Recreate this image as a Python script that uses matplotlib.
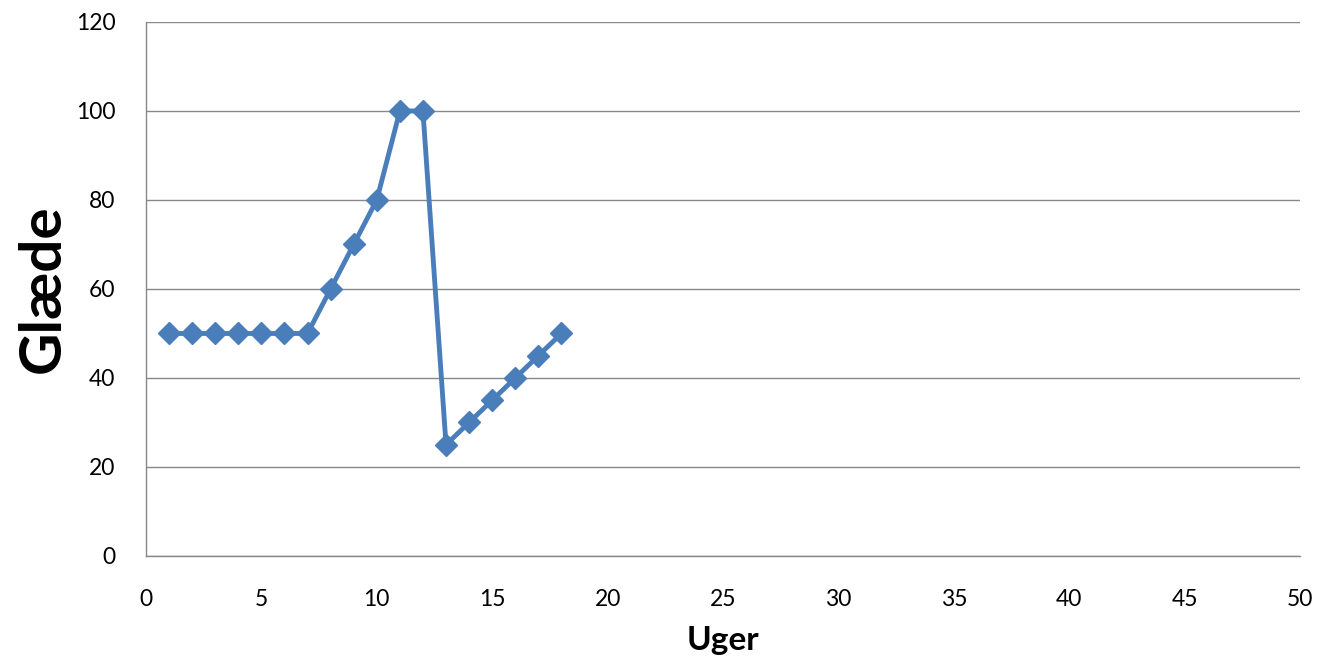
import matplotlib.pyplot as plt

# data
uger = [1, 2, 3, 4, 5, 6, 7, 8, 9, 10, 11, 12, 13, 14, 15, 16, 17, 18]
glaede = [50, 50, 50, 50, 50, 50, 50, 60, 70, 80, 100, 100, 25, 30, 35, 40, 45, 50]
x_ticks = [0, 5, 10, 15, 20, 25, 30, 35, 40, 45, 50]
y_ticks = [0, 20, 40, 60, 80, 100, 120]

plt.rcParams['font.family'] = ['Lato', 'DejaVu Sans']

fig = plt.figure(figsize=(13.21, 6.60), dpi=100)
ax = fig.add_axes([0.1105, 0.1576, 0.8736, 0.8091])

ax.plot(uger, glaede, color='#4A7EBB', linewidth=3.5, marker='D', markersize=11,
        markerfacecolor='#4A7EBB', markeredgecolor='#4A7EBB', zorder=3)

ax.set_xlim(0, 50)
ax.set_ylim(0, 120)
ax.set_xticks(x_ticks)
ax.set_yticks(y_ticks)
ax.tick_params(axis='y', length=0, labelsize=16.5, colors='#000000', pad=22)
ax.tick_params(axis='x', length=0, labelsize=16.5, colors='#000000', pad=24)
ax.grid(axis='y', color='#888888', linewidth=1)
ax.set_axisbelow(True)
for s in ['top', 'right']:
    ax.spines[s].set_visible(False)
for s in ['left', 'bottom']:
    ax.spines[s].set_color('#888888')
    ax.spines[s].set_linewidth(1)

ax.set_xlabel('Uger', fontsize=24, fontweight='bold', labelpad=11)
ax.set_ylabel('Glæde', fontsize=42, fontweight='bold', labelpad=4)

fig.savefig('out.png', dpi=100)
